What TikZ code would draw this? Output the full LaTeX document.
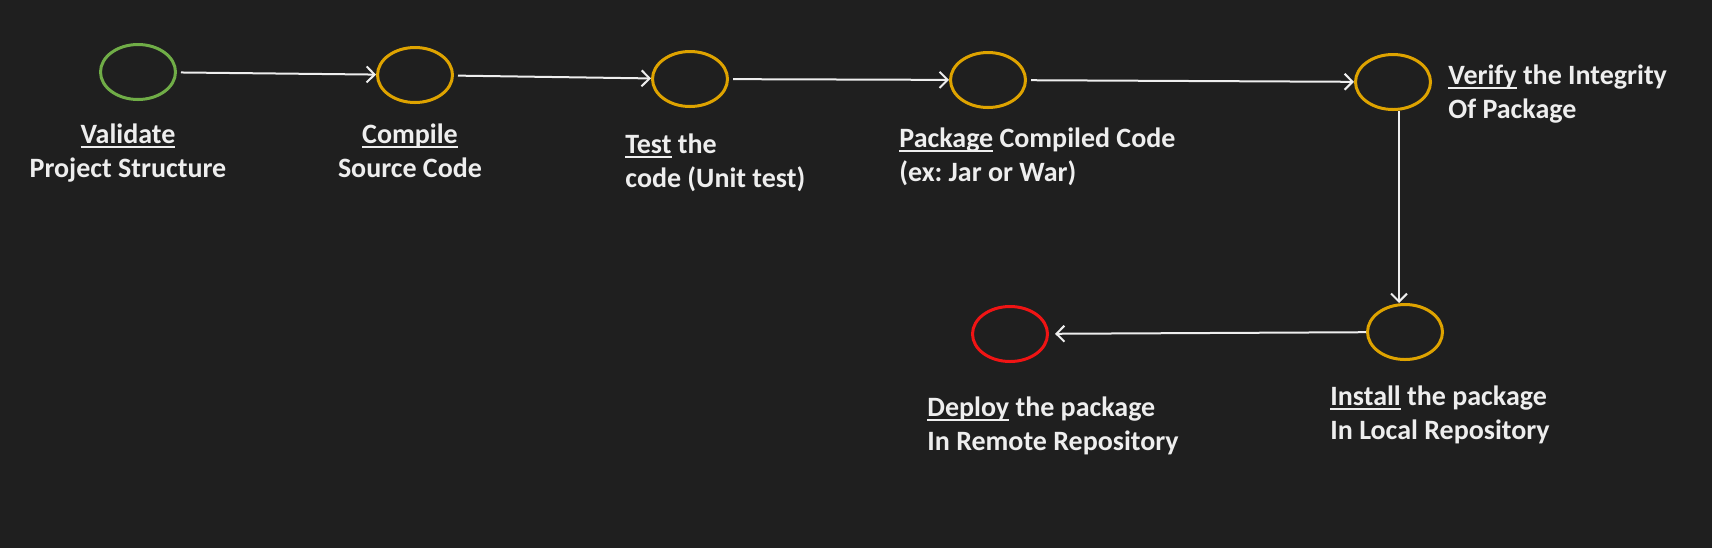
\documentclass[tikz,border=0pt]{standalone}
\usepackage{fontspec}
\setmainfont{Carlito}
\frenchspacing
\usetikzlibrary{arrows.meta, positioning, shapes.geometric}
\definecolor{darkbg}{RGB}{31, 31, 31}
\definecolor{stagegreen}{RGB}{112, 173, 71}
\definecolor{stagegold}{RGB}{222, 163, 0}
\definecolor{stagered}{RGB}{240, 20, 20}
\definecolor{lighttext}{RGB}{238, 238, 238}

% underlined key word of a step
\newcommand{\keyword}[1]{\setbox0\hbox{#1}\rlap{\rule[-0.17em]{\wd0}{0.07em}}\box0\relax}

\tikzset{
    stage/.style={ellipse, draw=#1, line width=1.5pt, minimum width=37.5pt, minimum height=27.5pt, inner sep=0pt},
    steptext/.style={text=lighttext, font=\fontsize{14pt}{17pt}\selectfont\bfseries, inner sep=0pt},
    flow/.style={draw=lighttext, line width=1pt, -{Straight Barb[length=4pt, width=8pt, line width=1pt]}}
}

\begin{document}
\begin{tikzpicture}[x=0.5pt, y=-0.5pt]
            % Background
            \fill[darkbg] (0, 0) rectangle (1712, 548);
            \useasboundingbox (0, 0) rectangle (1712, 548);

            % Lifecycle stages
            \node[stage=stagegreen] (validate) at (138, 72) {};
            \node[stage=stagegold] (compile) at (415, 75) {};
            \node[stage=stagegold] (test) at (690, 79) {};
            \node[stage=stagegold] (package) at (988, 80) {};
            \node[stage=stagegold] (verify) at (1393, 82) {};
            \node[stage=stagegold] (install) at (1405, 332) {};
            \node[stage=stagered] (deploy) at (1010, 334) {};

            % Stage texts (base = last line)
            \node[steptext, align=center, anchor=base] (validate-text) at (128, 177) {\keyword{Validate}\\Project Structure};
            \node[steptext, align=center, anchor=base] (compile-text) at (410, 177) {\keyword{Compile}\\Source Code};
            \node[steptext, align=left, anchor=base west] (test-text) at (625, 187) {\keyword{Test} the\\code (Unit test)};
            \node[steptext, align=left, anchor=base west] (package-text) at (899, 181) {\keyword{Package} Compiled Code\\(ex: Jar or War)};
            \node[steptext, align=left, anchor=base west] (verify-text) at (1448, 118) {\keyword{Verify} the Integrity\\Of Package};
            \node[steptext, align=left, anchor=base west] (install-text) at (1330, 439) {\keyword{Install} the package\\In Local Repository};
            \node[steptext, align=left, anchor=base west] (deploy-text) at (927, 450) {\keyword{Deploy} the package\\In Remote Repository};

            % Flow between stages
            \draw[flow, shorten <=2pt] (validate) -- (compile);
            \draw[flow, shorten <=2pt] (compile) -- (test);
            \draw[flow, shorten <=2pt] (test) -- (package);
            \draw[flow, shorten <=2pt] (package) -- (verify);
            \draw[flow] ([xshift=3pt]verify.south) -- ([xshift=-3pt]install.north);
            \draw[flow, shorten >=3pt] (install) -- (deploy);
        \end{tikzpicture}
\end{document}
